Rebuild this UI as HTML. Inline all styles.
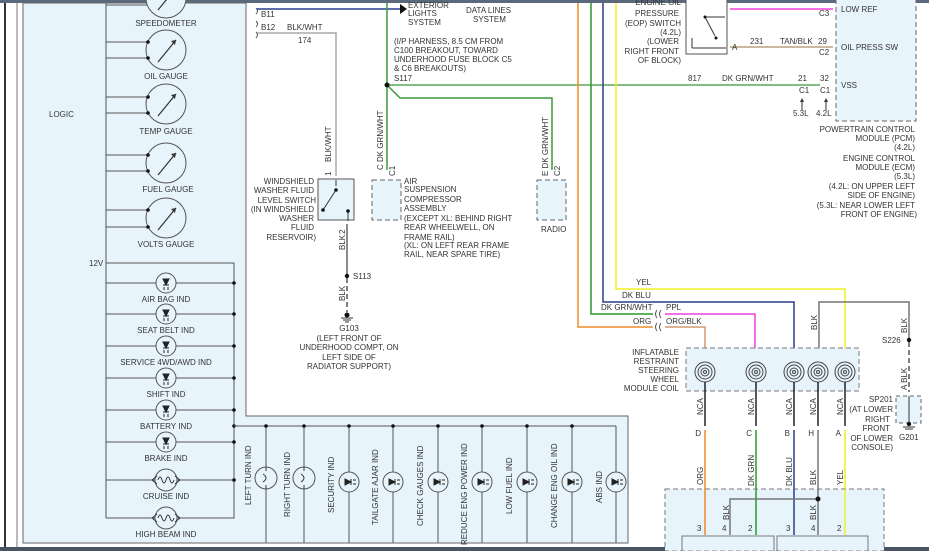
<!DOCTYPE html>
<html><head><meta charset="utf-8"><style>
html,body{margin:0;padding:0;background:#fff;}
svg{display:block;font-family:"Liberation Sans",sans-serif;}
text{font-size:8px;fill:#333;}
</style></head><body>
<svg width="929" height="551" viewBox="0 0 929 551" xmlns="http://www.w3.org/2000/svg">
<defs>
<g id="led"><circle r="10" fill="#e8f4fc" stroke="#555" stroke-width="1"/><path d="M-4,-3 L2,0 L-4,3Z M2,-3 V3 M4,-2 h3 M4,2 h3" stroke="#222" fill="#222" stroke-width="1"/></g>
<g id="ledv"><circle r="10" fill="#e8f4fc" stroke="#555"/><path d="M-3,-4 L0,2 L3,-4Z M-3,2 H3 M-2,4 v3 M2,4 v3" stroke="#222" fill="#222"/></g>
<g id="gauge"><circle r="20" fill="#e8f4fc" stroke="#555"/><path d="M-8,12 L10,-10" stroke="#333" stroke-width="1.2"/><path d="M10,-10 l-5,1 l4,4z" fill="#333"/></g>
<g id="coil"><circle r="10" fill="none" stroke="#444"/><circle r="7" fill="none" stroke="#444"/><circle r="4" fill="none" stroke="#444"/><circle r="1.5" fill="none" stroke="#444"/></g>
</defs>
<rect x="0" y="0" width="929" height="3" fill="#5a6a7c"/>
<rect x="0" y="547" width="929" height="4" fill="#4a5564"/>
<line x1="5" y1="3" x2="5" y2="547" stroke="#333" stroke-width="2"/>
<!-- left panel -->
<path d="M23,3 H246 V416 H628 V543 H23 Z" fill="#e8f4fc" stroke="#666"/>
<line x1="17" y1="3" x2="17" y2="547" stroke="#777"/>
<text x="49" y="117">LOGIC</text>
<line x1="106" y1="3" x2="106" y2="518" stroke="#555"/>
<!-- gauges -->
<g stroke="#555">
<line x1="106" y1="5" x2="148" y2="5"/>
<line x1="106" y1="42" x2="148" y2="42"/><line x1="106" y1="58" x2="148" y2="58"/>
<line x1="106" y1="97" x2="148" y2="97"/><line x1="106" y1="113" x2="148" y2="113"/>
<line x1="106" y1="155" x2="148" y2="155"/><line x1="106" y1="171" x2="148" y2="171"/>
<line x1="106" y1="210" x2="148" y2="210"/><line x1="106" y1="227" x2="148" y2="227"/>
</g>
<use href="#gauge" x="166" y="-2"/><use href="#gauge" x="166" y="50"/><use href="#gauge" x="166" y="104"/><use href="#gauge" x="166" y="163"/><use href="#gauge" x="166" y="218"/>
<g fill="#111"><circle cx="148" cy="42" r="1.8"/><circle cx="148" cy="58" r="1.8"/><circle cx="148" cy="97" r="1.8"/><circle cx="148" cy="113" r="1.8"/><circle cx="148" cy="155" r="1.8"/><circle cx="148" cy="171" r="1.8"/><circle cx="148" cy="210" r="1.8"/><circle cx="148" cy="227" r="1.8"/></g>
<g text-anchor="middle"><text x="166" y="26">SPEEDOMETER</text><text x="166" y="79">OIL GAUGE</text><text x="166" y="134">TEMP GAUGE</text><text x="168" y="192">FUEL GAUGE</text><text x="166" y="247">VOLTS GAUGE</text></g>
<text x="89" y="266">12V</text>
<polyline points="106,263 234,263 234,518 106,518" fill="none" stroke="#555"/>
<g stroke="#555">
<line x1="106" y1="283" x2="234" y2="283"/><line x1="106" y1="314" x2="234" y2="314"/><line x1="106" y1="346" x2="234" y2="346"/><line x1="106" y1="378" x2="234" y2="378"/><line x1="106" y1="410" x2="234" y2="410"/><line x1="106" y1="442" x2="234" y2="442"/><line x1="106" y1="480" x2="234" y2="480"/>
</g>
<use href="#ledv" x="166" y="283"/><use href="#ledv" x="166" y="314"/><use href="#ledv" x="166" y="346"/><use href="#ledv" x="166" y="378"/><use href="#ledv" x="166" y="410"/><use href="#ledv" x="166" y="442"/>
<g><circle cx="166" cy="480" r="11" fill="#e8f4fc" stroke="#555"/><path d="M152,480 l5,-4 M152,480 l5,4 M180,480 l-5,-4 M180,480 l-5,4 M158,480 q2,-6 4,0 q2,6 4,0 q2,-6 4,0 q2,6 4,0" fill="none" stroke="#333"/></g>
<g><circle cx="166" cy="518" r="11" fill="#e8f4fc" stroke="#555"/><path d="M152,518 l5,-4 M152,518 l5,4 M180,518 l-5,-4 M180,518 l-5,4 M158,518 q2,-6 4,0 q2,6 4,0 q2,-6 4,0 q2,6 4,0" fill="none" stroke="#333"/></g>
<g fill="#111"><circle cx="234" cy="283" r="1.8"/><circle cx="234" cy="314" r="1.8"/><circle cx="234" cy="346" r="1.8"/><circle cx="234" cy="378" r="1.8"/><circle cx="234" cy="410" r="1.8"/><circle cx="234" cy="426" r="1.8"/><circle cx="234" cy="442" r="1.8"/><circle cx="234" cy="480" r="1.8"/></g>
<g text-anchor="middle"><text x="166" y="302">AIR BAG IND</text><text x="166" y="333">SEAT BELT IND</text><text x="166" y="365">SERVICE 4WD/AWD IND</text><text x="166" y="397">SHIFT IND</text><text x="166" y="429">BATTERY IND</text><text x="166" y="461">BRAKE IND</text><text x="166" y="499">CRUISE IND</text><text x="166" y="537">HIGH BEAM IND</text></g>
<!-- bottom bus -->
<line x1="234" y1="426" x2="616" y2="426" stroke="#555"/>
<g stroke="#555"><line x1="266" y1="426" x2="266" y2="543"/><line x1="304" y1="426" x2="304" y2="543"/><line x1="349" y1="426" x2="349" y2="543"/><line x1="393" y1="426" x2="393" y2="543"/><line x1="438" y1="426" x2="438" y2="543"/><line x1="482" y1="426" x2="482" y2="543"/><line x1="527" y1="426" x2="527" y2="543"/><line x1="572" y1="426" x2="572" y2="543"/><line x1="616" y1="426" x2="616" y2="543"/></g>
<g fill="#111"><circle cx="266" cy="426" r="1.8"/><circle cx="304" cy="426" r="1.8"/><circle cx="349" cy="426" r="1.8"/><circle cx="393" cy="426" r="1.8"/><circle cx="438" cy="426" r="1.8"/><circle cx="482" cy="426" r="1.8"/><circle cx="527" cy="426" r="1.8"/><circle cx="572" cy="426" r="1.8"/></g>
<g><circle cx="266" cy="478" r="11" fill="#e8f4fc" stroke="#555"/><circle cx="304" cy="478" r="11" fill="#e8f4fc" stroke="#555"/><path d="M266,467 v4 M266,485 v4 M304,467 v4 M304,485 v4 M263,474 q6,4 0,8 M301,474 q6,4 0,8" fill="none" stroke="#333"/></g>
<use href="#led" x="349" y="482"/><use href="#led" x="393" y="482"/><use href="#led" x="438" y="482"/><use href="#led" x="482" y="482"/><use href="#led" x="527" y="482"/><use href="#led" x="572" y="482"/><use href="#led" x="616" y="482"/>
<g>
<text transform="translate(251,505) rotate(-90)">LEFT TURN IND</text>
<text transform="translate(290,517) rotate(-90)">RIGHT TURN IND</text>
<text transform="translate(334,513) rotate(-90)">SECURITY IND</text>
<text transform="translate(378,525) rotate(-90)">TAILGATE AJAR IND</text>
<text transform="translate(423,526) rotate(-90)">CHECK GAUGES IND</text>
<text transform="translate(467,545) rotate(-90)">REDUCE ENG POWER IND</text>
<text transform="translate(512,514) rotate(-90)">LOW FUEL IND</text>
<text transform="translate(557,528) rotate(-90)">CHANGE ENG OIL IND</text>
<text transform="translate(602,503) rotate(-90)">ABS IND</text>
</g>
<!-- top middle -->
<path d="M256,8 q3,3 0,6 M256,21 q3,3 0,6 M256,32 q3,3 0,6" fill="none" stroke="#555"/>
<line x1="257" y1="9" x2="400" y2="9" stroke="#2a3f8f" stroke-width="1.5"/>
<path d="M400,4 L407,9 L400,14Z" fill="#111"/>
<text x="261" y="17">B11</text><text x="261" y="30">B12</text><text x="287" y="30">BLK/WHT</text><text x="298" y="43">174</text>
<text x="408" y="8">EXTERIOR</text><text x="408" y="16">LIGHTS</text><text x="408" y="25">SYSTEM</text>
<text x="466" y="13">DATA LINES</text><text x="473" y="22">SYSTEM</text>
<polyline points="257,33 336,33 336,176" fill="none" stroke="#aaa" stroke-width="1.5"/>
<text transform="translate(331,162) rotate(-90)">BLK/WHT</text><text transform="translate(331,176) rotate(-90)">1</text>
<rect x="318" y="179" width="36" height="41" fill="#e8f4fc" stroke="#555"/>
<path d="M336,180 v6 M323,210 L336,190 M348,211 v10" stroke="#333"/><circle cx="336" cy="190" r="1.8" fill="#111"/><circle cx="323" cy="210" r="1.8" fill="#111"/><circle cx="348" cy="211" r="1.8" fill="#111"/>
<g text-anchor="end"><text x="314" y="184">WINDSHIELD</text><text x="314" y="193">WASHER FLUID</text><text x="316" y="203">LEVEL SWITCH</text><text x="314" y="212">(IN WINDSHIELD</text><text x="314" y="221">WASHER</text><text x="314" y="230">FLUID</text><text x="316" y="240">RESERVOIR)</text></g>
<line x1="347" y1="224" x2="347" y2="276" stroke="#666" stroke-width="1.5"/>
<text transform="translate(345,234) rotate(-90)">2</text><text transform="translate(345,250) rotate(-90)">BLK</text>
<circle cx="347" cy="276" r="2.2" fill="#111"/><text x="353" y="279">S113</text>
<line x1="347" y1="278" x2="347" y2="312" stroke="#555" stroke-width="1.5" stroke-dasharray="5,3"/>
<text transform="translate(345,301) rotate(-90)">BLK</text>
<circle cx="347" cy="315" r="2.5" fill="#111"/><path d="M341,318 h12 M343,320 h8 M345,322 h4" stroke="#333"/>
<g text-anchor="middle"><text x="349" y="331">G103</text><text x="349" y="341">(LEFT FRONT OF</text><text x="349" y="350">UNDERHOOD COMPT, ON</text><text x="349" y="360">LEFT SIDE OF</text><text x="349" y="369">RADIATOR SUPPORT)</text></g>
<!-- green S117 -->
<line x1="387" y1="3" x2="387" y2="170" stroke="#3a9a3a" stroke-width="1.5"/>
<line x1="387" y1="85" x2="820" y2="85" stroke="#5aaa5a" stroke-width="1.5"/>
<polyline points="387,85 400,98 552,98 552,170" fill="none" stroke="#3a9a3a" stroke-width="1.5"/>
<circle cx="387" cy="85" r="2.5" fill="#111"/>
<text x="394" y="44">(I/P HARNESS, 8.5 CM FROM</text><text x="394" y="53">C100 BREAKOUT, TOWARD</text><text x="394" y="62">UNDERHOOD FUSE BLOCK C5</text><text x="394" y="71">&amp; C6 BREAKOUTS)</text><text x="394" y="81">S117</text>
<text transform="translate(383,170) rotate(-90)">C  DK GRN/WHT</text><text transform="translate(395,176) rotate(-90)">C1</text>
<text transform="translate(548,176) rotate(-90)">E  DK GRN/WHT</text><text transform="translate(560,176) rotate(-90)">C2</text>
<rect x="372" y="180" width="29" height="40" fill="#e8f4fc" stroke="#666" stroke-dasharray="5,3"/>
<rect x="537" y="180" width="29" height="40" fill="#e8f4fc" stroke="#666" stroke-dasharray="5,3"/>
<text x="404" y="184">AIR</text><text x="404" y="192">SUSPENSION</text><text x="404" y="202">COMPRESSOR</text><text x="404" y="211">ASSEMBLY</text><text x="404" y="221">(EXCEPT XL: BEHIND RIGHT</text><text x="404" y="230">REAR WHEELWELL, ON</text><text x="404" y="240">FRAME RAIL)</text><text x="404" y="248">(XL: ON LEFT REAR FRAME</text><text x="404" y="257">RAIL, NEAR SPARE TIRE)</text>
<text x="541" y="232">RADIO</text>
<!-- colored wires -->
<polyline points="578,3 578,327 653,327" fill="none" stroke="#f08a2a" stroke-width="1.5"/>
<polyline points="591,3 591,314 653,314" fill="none" stroke="#2a9a2a" stroke-width="1.5"/>
<polyline points="603,3 603,302 794,302 794,362" fill="none" stroke="#2a3f8f" stroke-width="1.5"/>
<polyline points="616,3 616,289 845,289 845,362" fill="none" stroke="#f0f020" stroke-width="1.5"/>
<polyline points="665,314 755,314 755,362" fill="none" stroke="#f040e0" stroke-width="1.5"/>
<polyline points="665,327 705,327 705,362" fill="none" stroke="#d09a70" stroke-width="1.5"/>
<path d="M657,310 q-3,4 0,8 M661,310 q-3,4 0,8 M657,323 q-3,4 0,8 M661,323 q-3,4 0,8" fill="none" stroke="#555"/>
<text x="636" y="285">YEL</text><text x="622" y="298">DK BLU</text><text x="601" y="310">DK GRN/WHT</text><text x="666" y="310">PPL</text><text x="633" y="324">ORG</text><text x="666" y="324">ORG/BLK</text>
<polyline points="819,362 819,302 909,302 909,340" fill="none" stroke="#777" stroke-width="1.5"/>
<text transform="translate(817,330) rotate(-90)">BLK</text><text transform="translate(907,333) rotate(-90)">BLK</text>
<circle cx="909" cy="340" r="2.2" fill="#111"/><text x="882" y="343">S226</text>
<line x1="909" y1="342" x2="909" y2="392" stroke="#555" stroke-width="1.5" stroke-dasharray="5,3"/>
<text transform="translate(907,390) rotate(-90)">A  BLK</text>
<rect x="896" y="396" width="25" height="27" fill="#e8f4fc" stroke="#666" stroke-dasharray="4,3"/>
<line x1="909" y1="396" x2="909" y2="425" stroke="#333"/><circle cx="909" cy="424" r="2.2" fill="#111"/><path d="M903,427 h12 M905,429 h8" stroke="#333"/>
<g text-anchor="end"><text x="893" y="402">SP201</text><text x="893" y="412">(AT LOWER</text><text x="890" y="422">RIGHT</text><text x="890" y="431">FRONT</text><text x="893" y="441">OF LOWER</text><text x="893" y="450">CONSOLE)</text></g>
<text x="899" y="440">G201</text>
<rect x="686" y="348" width="173" height="43" fill="#e8f4fc" stroke="#777" stroke-dasharray="5,3"/>
<g text-anchor="end"><text x="679" y="355">INFLATABLE</text><text x="679" y="364">RESTRAINT</text><text x="679" y="373">STEERING</text><text x="679" y="382">WHEEL</text><text x="679" y="391">MODULE COIL</text></g>
<use href="#coil" x="705" y="372"/><use href="#coil" x="756" y="372"/><use href="#coil" x="794" y="372"/><use href="#coil" x="818" y="372"/><use href="#coil" x="845" y="372"/>
<g stroke="#222" stroke-width="1.5"><line x1="705" y1="382" x2="705" y2="426"/><line x1="756" y1="382" x2="756" y2="426"/><line x1="794" y1="382" x2="794" y2="426"/><line x1="818" y1="382" x2="818" y2="426"/><line x1="845" y1="382" x2="845" y2="426"/></g>
<g><text transform="translate(703,415) rotate(-90)">NCA</text><text transform="translate(754,415) rotate(-90)">NCA</text><text transform="translate(792,415) rotate(-90)">NCA</text><text transform="translate(816,415) rotate(-90)">NCA</text><text transform="translate(843,415) rotate(-90)">NCA</text></g>
<g text-anchor="end"><text x="701" y="436">D</text><text x="752" y="436">C</text><text x="790" y="436">B</text><text x="814" y="436">H</text><text x="841" y="436">A</text></g>
<line x1="705" y1="430" x2="705" y2="535" stroke="#f08a2a" stroke-width="1.5"/>
<line x1="756" y1="430" x2="756" y2="535" stroke="#2a9a2a" stroke-width="1.5"/>
<line x1="794" y1="430" x2="794" y2="535" stroke="#2a3f8f" stroke-width="1.5"/>
<line x1="818" y1="430" x2="818" y2="535" stroke="#777" stroke-width="1.5"/>
<line x1="845" y1="430" x2="845" y2="535" stroke="#f0f020" stroke-width="1.5"/>
<rect x="665" y="489" width="219" height="62" fill="#e8f4fc" stroke="#777" stroke-dasharray="5,3"/>
<line x1="705" y1="489" x2="705" y2="535" stroke="#f08a2a" stroke-width="1.5"/>
<line x1="756" y1="489" x2="756" y2="535" stroke="#2a9a2a" stroke-width="1.5"/>
<line x1="794" y1="489" x2="794" y2="535" stroke="#2a3f8f" stroke-width="1.5"/>
<line x1="818" y1="489" x2="818" y2="535" stroke="#777" stroke-width="1.5"/>
<line x1="845" y1="489" x2="845" y2="535" stroke="#f0f020" stroke-width="1.5"/>
<polyline points="818,499 730,499 730,535" fill="none" stroke="#777" stroke-width="1.5"/>
<circle cx="818" cy="499" r="2.5" fill="#111"/>
<g><text transform="translate(703,485) rotate(-90)">ORG</text><text transform="translate(754,486) rotate(-90)">DK GRN</text><text transform="translate(792,486) rotate(-90)">DK BLU</text><text transform="translate(816,485) rotate(-90)">BLK</text><text transform="translate(843,485) rotate(-90)">YEL</text><text transform="translate(729,520) rotate(-90)">BLK</text><text transform="translate(816,520) rotate(-90)">BLK</text></g>
<text x="697" y="531">3</text><text x="722" y="531">4</text><text x="748" y="531">2</text><text x="786" y="531">3</text><text x="811" y="531">4</text><text x="837" y="531">2</text>
<path d="M682,551 V536 H774 V551 M777,551 V536 H868 V551" fill="none" stroke="#777"/>
<!-- PCM -->
<rect x="836" y="-2" width="80" height="123" fill="#e8f4fc" stroke="#666" stroke-dasharray="5,3"/>
<line x1="730" y1="9" x2="833" y2="9" stroke="#f040e0" stroke-width="1.5"/>
<line x1="730" y1="47" x2="833" y2="47" stroke="#b8a080" stroke-width="1.5"/>
<rect x="686" y="-2" width="41" height="56" fill="#fff" stroke="#555"/>
<path d="M692,48 V38 M692,48 H726 M705,17 H725 M705,17 L715,36" fill="none" stroke="#333"/><circle cx="705" cy="17" r="1.5" fill="#111"/><circle cx="716" cy="38" r="1.5" fill="#111"/>
<g text-anchor="end"><text x="681" y="5">ENGINE OIL</text><text x="679" y="16">PRESSURE</text><text x="681" y="26">(EOP) SWITCH</text><text x="681" y="35">(4.2L)</text><text x="679" y="44">(LOWER</text><text x="679" y="54">RIGHT FRONT</text><text x="681" y="63">OF BLOCK)</text></g>
<text x="732" y="50">A</text><text x="750" y="44">231</text><text x="780" y="44">TAN/BLK</text><text x="818" y="44">29</text><text x="819" y="55">C2</text><text x="819" y="16">C3</text>
<text x="841" y="12">LOW REF</text><text x="841" y="50">OIL PRESS SW</text><text x="841" y="88">VSS</text>
<text x="688" y="81">817</text><text x="722" y="81">DK GRN/WHT</text><text x="798" y="81">21</text><text x="820" y="81">32</text><text x="799" y="93">C1</text><text x="820" y="93">C1</text>
<path d="M802,110 V101 M826,110 V101" stroke="#333"/><path d="M800,102 L802,98 L804,102Z M824,102 L826,98 L828,102Z" fill="#333"/>
<text x="793" y="116">5.3L</text><text x="816" y="116">4.2L</text>
<g text-anchor="end"><text x="915" y="132">POWERTRAIN CONTROL</text><text x="915" y="141">MODULE (PCM)</text><text x="915" y="150">(4.2L)</text><text x="915" y="161">ENGINE CONTROL</text><text x="915" y="170">MODULE (ECM)</text><text x="915" y="179">(5.3L)</text><text x="915" y="189">(4.2L: ON UPPER LEFT</text><text x="915" y="198">SIDE OF ENGINE)</text><text x="915" y="208">(5.3L: NEAR LOWER LEFT</text><text x="917" y="217">FRONT OF ENGINE)</text></g>
</svg>
</body></html>
